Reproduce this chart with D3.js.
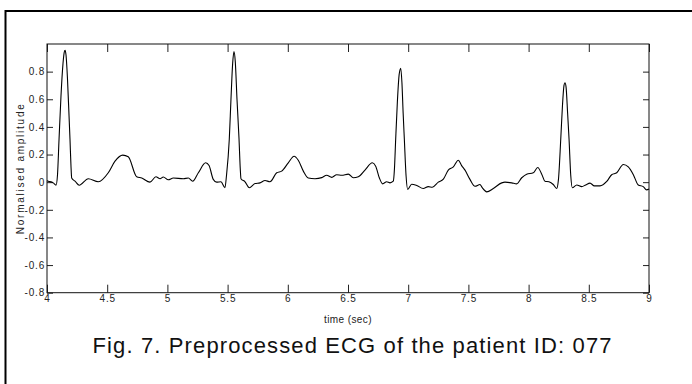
<!DOCTYPE html>
<html>
<head>
<meta charset="utf-8">
<script src="https://cdn.jsdelivr.net/npm/d3@7"></script>
<style>
  body { margin: 0; background: #fff; }
  svg { display: block; font-family: "Liberation Sans", Arial, sans-serif; }
</style>
</head>
<body>
<svg id="drawing_region"></svg>
<script>
// ECG trace (time in seconds, normalised amplitude)
const timeSec = [
  4.000, 4.011, 4.052, 4.075, 4.087, 4.100, 4.116, 4.133, 4.143, 4.150,
  4.158, 4.170, 4.183, 4.191, 4.199, 4.205, 4.233, 4.268, 4.343, 4.426,
  4.509, 4.565, 4.629, 4.675, 4.745, 4.787, 4.855, 4.905, 4.939, 4.966,
  5.007, 5.049, 5.132, 5.174, 5.210, 5.257, 5.318, 5.346, 5.381, 5.409,
  5.445, 5.478, 5.491, 5.514, 5.528, 5.542, 5.553, 5.564, 5.578, 5.595,
  5.605, 5.611, 5.645, 5.680, 5.728, 5.769, 5.811, 5.852, 5.908, 5.949,
  6.004, 6.052, 6.087, 6.129, 6.170, 6.226, 6.282, 6.323, 6.365, 6.406,
  6.448, 6.503, 6.544, 6.586, 6.641, 6.702, 6.730, 6.760, 6.788, 6.821,
  6.849, 6.876, 6.886, 6.896, 6.910, 6.925, 6.938, 6.948, 6.958, 6.968,
  6.982, 6.996, 7.029, 7.071, 7.125, 7.167, 7.200, 7.250, 7.292, 7.333,
  7.375, 7.416, 7.444, 7.472, 7.513, 7.555, 7.596, 7.615, 7.652, 7.707,
  7.777, 7.804, 7.860, 7.901, 7.943, 7.984, 8.039, 8.076, 8.109, 8.136,
  8.169, 8.205, 8.233, 8.248, 8.267, 8.281, 8.294, 8.302, 8.311, 8.324,
  8.336, 8.350, 8.363, 8.400, 8.441, 8.474, 8.510, 8.546, 8.593, 8.649,
  8.690, 8.732, 8.787, 8.828, 8.870, 8.911, 8.952, 8.980, 9.000
];
const amplitude = [
  0.010, 0.007, -0.005, -0.022, 0.050, 0.310, 0.620, 0.860, 0.940, 0.954,
  0.920, 0.750, 0.480, 0.310, 0.120, 0.030, 0.007, -0.022, 0.025, 0.003,
  0.068, 0.152, 0.196, 0.184, 0.039, 0.030, 0.000, 0.039, 0.025, 0.037,
  0.017, 0.030, 0.025, 0.030, 0.007, 0.068, 0.140, 0.120, 0.020, 0.000,
  0.003, -0.040, 0.050, 0.310, 0.600, 0.860, 0.945, 0.870, 0.600, 0.310,
  0.100, 0.025, 0.003, -0.040, -0.010, -0.005, 0.012, 0.003, 0.068, 0.080,
  0.140, 0.188, 0.159, 0.080, 0.030, 0.025, 0.033, 0.050, 0.035, 0.054,
  0.050, 0.058, 0.032, 0.039, 0.087, 0.140, 0.116, 0.032, -0.012, 0.003,
  -0.005, 0.007, 0.100, 0.310, 0.580, 0.780, 0.824, 0.720, 0.500, 0.310,
  0.050, -0.053, -0.015, -0.024, -0.046, -0.032, -0.037, 0.000, 0.022, 0.087,
  0.110, 0.159, 0.120, 0.087, 0.020, -0.030, -0.017, -0.040, -0.070, -0.046,
  -0.005, 0.000, -0.005, -0.012, 0.032, 0.058, 0.068, 0.106, 0.058, 0.007,
  0.003, -0.017, -0.046, 0.020, 0.310, 0.550, 0.700, 0.720, 0.690, 0.500,
  0.310, 0.050, -0.040, -0.020, -0.032, -0.020, -0.007, -0.027, -0.027, 0.005,
  0.054, 0.068, 0.128, 0.110, 0.054, -0.020, -0.032, -0.056, -0.050
];
const xTicks = [4, 4.5, 5, 5.5, 6, 6.5, 7, 7.5, 8, 8.5, 9];
const yTicks = [-0.8, -0.6, -0.4, -0.2, 0, 0.2, 0.4, 0.6, 0.8];
const xDomain = [4, 9];
const yDomain = [-0.8, 1];

const xLabel = "time (sec)";
const yLabel = "Normalised amplitude";
const caption = "Fig. 7. Preprocessed ECG of the patient ID: 077";

class EcgChart {
    constructor(config) {
        this.config = config;
        this.data = timeSec.map((t, i) => ({ t: t, v: amplitude[i] }));
        this.init();
    }

    init() {
        let self = this;
        let c = self.config;

        self.svg = d3.select(c.parent)
            .attr('width', c.width)
            .attr('height', c.height);

        self.inner_w = c.width - c.margin.left - c.margin.right;
        self.inner_h = c.height - c.margin.top - c.margin.bottom;

        self.chart = self.svg.append('g')
            .attr('transform', `translate(${c.margin.left}, ${c.margin.top})`);

        self.xscale = d3.scaleLinear().domain(xDomain).range([0, self.inner_w]);
        self.yscale = d3.scaleLinear().domain(yDomain).range([self.inner_h, 0]);
    }

    render() {
        let self = this;
        let c = self.config;

        // page frame (left and top rule of the figure box)
        self.svg.append('path')
            .attr('d', `M5.5,${c.height} V11 H${c.width}`)
            .attr('fill', 'none')
            .attr('stroke', '#000')
            .attr('stroke-width', 2);

        const tickText = g => g.selectAll('text')
            .attr('font-size', '10px')
            .attr('fill', '#222')
            .attr('font-family', '"Liberation Sans", Arial, sans-serif')
            .style('letter-spacing', '0.8px');

        // bottom axis with labels
        self.chart.append('g')
            .attr('transform', `translate(0, ${self.inner_h})`)
            .call(d3.axisBottom(self.xscale).tickValues(xTicks)
                .tickSizeInner(-8).tickSizeOuter(0).tickPadding(2)
                .tickFormat(d => String(d)))
            .call(g => g.select('.domain').remove())
            .call(tickText);

        // top axis, ticks only
        self.chart.append('g')
            .call(d3.axisTop(self.xscale).tickValues(xTicks)
                .tickSizeInner(-8).tickSizeOuter(0).tickFormat(''))
            .call(g => g.select('.domain').remove());

        // left axis with labels
        self.chart.append('g')
            .call(d3.axisLeft(self.yscale).tickValues(yTicks)
                .tickSizeInner(-6).tickSizeOuter(0).tickPadding(2)
                .tickFormat(d => String(d)))
            .call(g => g.select('.domain').remove())
            .call(tickText);

        // right axis, ticks only
        self.chart.append('g')
            .attr('transform', `translate(${self.inner_w}, 0)`)
            .call(d3.axisRight(self.yscale).tickValues(yTicks)
                .tickSizeInner(-6).tickSizeOuter(0).tickFormat(''))
            .call(g => g.select('.domain').remove());

        self.chart.selectAll('.tick line').attr('stroke', '#222');

        // box
        self.chart.append('rect')
            .attr('width', self.inner_w)
            .attr('height', self.inner_h)
            .attr('fill', 'none')
            .attr('stroke', '#111')
            .attr('stroke-width', 1);

        // trace
        const line = d3.line()
            .x(d => self.xscale(d.t))
            .y(d => self.yscale(d.v))
            .curve(d3.curveMonotoneX);

        self.chart.append('path')
            .datum(self.data)
            .attr('d', line)
            .attr('fill', 'none')
            .attr('stroke', '#000')
            .attr('stroke-width', 1.1);

        // axis titles
        self.chart.append('text')
            .attr('x', self.inner_w / 2)
            .attr('y', self.inner_h + 30)
            .attr('text-anchor', 'middle')
            .attr('font-size', '10px')
            .attr('fill', '#222')
            .style('letter-spacing', '0.4px')
            .text(xLabel);

        self.svg.append('text')
            .attr('transform', `translate(23.5, ${c.margin.top + self.inner_h / 2}) rotate(-90)`)
            .attr('text-anchor', 'middle')
            .attr('font-size', '10px')
            .attr('fill', '#222')
            .style('letter-spacing', '1.75px')
            .text(yLabel);

        // figure caption
        self.svg.append('text')
            .attr('x', 352)
            .attr('y', 353)
            .attr('text-anchor', 'middle')
            .attr('font-size', '22px')
            .attr('fill', '#111')
            .attr('textLength', 519)
            .attr('lengthAdjust', 'spacing')
            .text(caption);
    }
}

const config = {
    parent: '#drawing_region',
    width: 692,
    height: 384,
    margin: { top: 44, right: 43, bottom: 91.3, left: 47 }
};

const ecg_chart = new EcgChart(config);
ecg_chart.render();
</script>
</body>
</html>
